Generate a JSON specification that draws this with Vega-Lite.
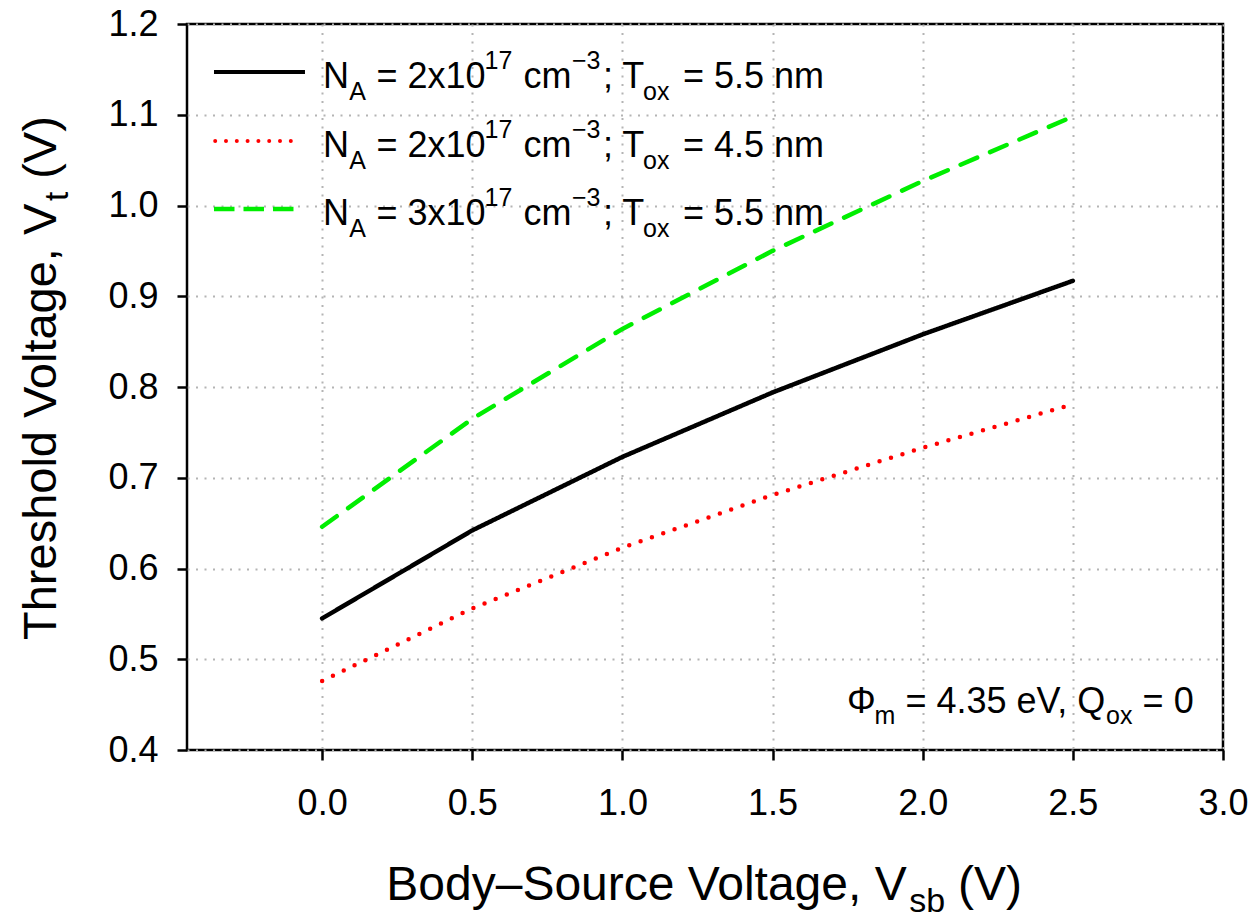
{
"$schema":"https://vega.github.io/schema/vega-lite/v6.json",
"autosize":"none",
"width":1036,"height":726,
"padding":{"left":187,"top":24,"right":33,"bottom":168},
"background":"white",
"datasets":{
"curves":[
{"vsb":0,"vt":0.545,"series":"NA=2e17, Tox=5.5nm"},
{"vsb":0.5,"vt":0.642,"series":"NA=2e17, Tox=5.5nm"},
{"vsb":1,"vt":0.723,"series":"NA=2e17, Tox=5.5nm"},
{"vsb":1.5,"vt":0.794,"series":"NA=2e17, Tox=5.5nm"},
{"vsb":2,"vt":0.858,"series":"NA=2e17, Tox=5.5nm"},
{"vsb":2.5,"vt":0.917,"series":"NA=2e17, Tox=5.5nm"},
{"vsb":0,"vt":0.476,"series":"NA=2e17, Tox=4.5nm"},
{"vsb":0.5,"vt":0.556,"series":"NA=2e17, Tox=4.5nm"},
{"vsb":1,"vt":0.623,"series":"NA=2e17, Tox=4.5nm"},
{"vsb":1.5,"vt":0.681,"series":"NA=2e17, Tox=4.5nm"},
{"vsb":2,"vt":0.733,"series":"NA=2e17, Tox=4.5nm"},
{"vsb":2.5,"vt":0.781,"series":"NA=2e17, Tox=4.5nm"},
{"vsb":0,"vt":0.646,"series":"NA=3e17, Tox=5.5nm"},
{"vsb":0.5,"vt":0.765,"series":"NA=3e17, Tox=5.5nm"},
{"vsb":1,"vt":0.864,"series":"NA=3e17, Tox=5.5nm"},
{"vsb":1.5,"vt":0.950,"series":"NA=3e17, Tox=5.5nm"},
{"vsb":2,"vt":1.027,"series":"NA=3e17, Tox=5.5nm"},
{"vsb":2.5,"vt":1.098,"series":"NA=3e17, Tox=5.5nm"}
],
"one":[{}]
},
"config":{
"view":{"stroke":"black","strokeWidth":2.5},
"axis":{"labelFont":"Liberation Sans","labelFontSize":36,"labelColor":"black","tickColor":"black","tickWidth":2.5,"tickSize":10,"domain":false,"grid":true,"gridColor":"#b4b4b4","gridDash":[2,6.5],"gridWidth":2,"labelFlush":false,"title":null},
"text":{"font":"Liberation Sans","align":"left","baseline":"alphabetic","fontSize":36,"color":"black"}
},
"layer":[
{"data":{"name":"curves"},
"mark":{"type":"line","strokeWidth":4.5,"strokeCap":"round"},
"encoding":{
"x":{"field":"vsb","type":"quantitative","scale":{"domain":[-0.45,3.0],"nice":false,"zero":false},"axis":{"title":null,"values":[0,0.5,1,1.5,2,2.5,3],"format":".1f","labelPadding":26}},
"y":{"field":"vt","type":"quantitative","scale":{"domain":[0.4,1.2],"nice":false,"zero":false},"axis":{"title":null,"values":[0.4,0.5,0.6,0.7,0.8,0.9,1.0,1.1,1.2],"format":".1f","labelPadding":19}},
"color":{"field":"series","type":"nominal","scale":{"domain":["NA=2e17, Tox=5.5nm","NA=2e17, Tox=4.5nm","NA=3e17, Tox=5.5nm"],"range":["#000000","#ff0000","#00ee00"]},"legend":null},
"strokeDash":{"field":"series","type":"nominal","scale":{"domain":["NA=2e17, Tox=5.5nm","NA=2e17, Tox=4.5nm","NA=3e17, Tox=5.5nm"],"range":[[1,0],[0,12],[18,14]]},"legend":null}
}},
{"data":{"name":"one"},"mark":{"type":"rule","color":"#000000","strokeWidth":4},"encoding":{"x":{"datum":-0.3601},"x2":{"datum":-0.0571},"y":{"datum":1.14711}}},
{"data":{"name":"one"},"mark":{"type":"rule","color":"#ff0000","strokeWidth":4,"strokeCap":"round","strokeDash":[0,10.8]},"encoding":{"x":{"datum":-0.3561},"x2":{"datum":-0.069},"y":{"datum":1.07107}}},
{"data":{"name":"one"},"mark":{"type":"rule","color":"#00ee00","strokeWidth":4.5,"strokeDash":[20.5,9]},"encoding":{"x":{"datum":-0.3601},"x2":{"datum":-0.0953},"y":{"datum":0.99614}}},

{"data":{"name":"one"},"mark":{"type":"text","text":"N"},"encoding":{"x":{"datum":0.0029},"y":{"datum":1.12992}}},
{"data":{"name":"one"},"mark":{"type":"text","text":"A","fontSize":25},"encoding":{"x":{"datum":0.0905},"y":{"datum":1.11636}}},
{"data":{"name":"one"},"mark":{"type":"text","text":"= 2x10"},"encoding":{"x":{"datum":0.1811},"y":{"datum":1.12992}}},
{"data":{"name":"one"},"mark":{"type":"text","text":"17","fontSize":25},"encoding":{"x":{"datum":0.5407},"y":{"datum":1.15085}}},
{"data":{"name":"one"},"mark":{"type":"text","text":"cm"},"encoding":{"x":{"datum":0.6706},"y":{"datum":1.12992}}},
{"data":{"name":"one"},"mark":{"type":"text","text":"−3","fontSize":25},"encoding":{"x":{"datum":0.8321},"y":{"datum":1.15085}}},
{"data":{"name":"one"},"mark":{"type":"text","text":"; T"},"encoding":{"x":{"datum":0.9353},"y":{"datum":1.12992}}},
{"data":{"name":"one"},"mark":{"type":"text","text":"ox","fontSize":25},"encoding":{"x":{"datum":1.0685},"y":{"datum":1.11636}}},
{"data":{"name":"one"},"mark":{"type":"text","text":"= 5.5 nm"},"encoding":{"x":{"datum":1.2017},"y":{"datum":1.12992}}},

{"data":{"name":"one"},"mark":{"type":"text","text":"N"},"encoding":{"x":{"datum":0.0029},"y":{"datum":1.05388}}},
{"data":{"name":"one"},"mark":{"type":"text","text":"A","fontSize":25},"encoding":{"x":{"datum":0.0905},"y":{"datum":1.04033}}},
{"data":{"name":"one"},"mark":{"type":"text","text":"= 2x10"},"encoding":{"x":{"datum":0.1811},"y":{"datum":1.05388}}},
{"data":{"name":"one"},"mark":{"type":"text","text":"17","fontSize":25},"encoding":{"x":{"datum":0.5407},"y":{"datum":1.07482}}},
{"data":{"name":"one"},"mark":{"type":"text","text":"cm"},"encoding":{"x":{"datum":0.6706},"y":{"datum":1.05388}}},
{"data":{"name":"one"},"mark":{"type":"text","text":"−3","fontSize":25},"encoding":{"x":{"datum":0.8321},"y":{"datum":1.07482}}},
{"data":{"name":"one"},"mark":{"type":"text","text":"; T"},"encoding":{"x":{"datum":0.9353},"y":{"datum":1.05388}}},
{"data":{"name":"one"},"mark":{"type":"text","text":"ox","fontSize":25},"encoding":{"x":{"datum":1.0685},"y":{"datum":1.04033}}},
{"data":{"name":"one"},"mark":{"type":"text","text":"= 4.5 nm"},"encoding":{"x":{"datum":1.2017},"y":{"datum":1.05388}}},

{"data":{"name":"one"},"mark":{"type":"text","text":"N"},"encoding":{"x":{"datum":0.0029},"y":{"datum":0.97895}}},
{"data":{"name":"one"},"mark":{"type":"text","text":"A","fontSize":25},"encoding":{"x":{"datum":0.0905},"y":{"datum":0.9654}}},
{"data":{"name":"one"},"mark":{"type":"text","text":"= 3x10"},"encoding":{"x":{"datum":0.1811},"y":{"datum":0.97895}}},
{"data":{"name":"one"},"mark":{"type":"text","text":"17","fontSize":25},"encoding":{"x":{"datum":0.5407},"y":{"datum":0.99989}}},
{"data":{"name":"one"},"mark":{"type":"text","text":"cm"},"encoding":{"x":{"datum":0.6706},"y":{"datum":0.97895}}},
{"data":{"name":"one"},"mark":{"type":"text","text":"−3","fontSize":25},"encoding":{"x":{"datum":0.8321},"y":{"datum":0.99989}}},
{"data":{"name":"one"},"mark":{"type":"text","text":"; T"},"encoding":{"x":{"datum":0.9353},"y":{"datum":0.97895}}},
{"data":{"name":"one"},"mark":{"type":"text","text":"ox","fontSize":25},"encoding":{"x":{"datum":1.0685},"y":{"datum":0.9654}}},
{"data":{"name":"one"},"mark":{"type":"text","text":"= 5.5 nm"},"encoding":{"x":{"datum":1.2017},"y":{"datum":0.97895}}},

{"data":{"name":"one"},"mark":{"type":"text","text":"Φ"},"encoding":{"x":{"datum":1.7479},"y":{"datum":0.44077}}},
{"data":{"name":"one"},"mark":{"type":"text","text":"m","fontSize":25},"encoding":{"x":{"datum":1.8395},"y":{"datum":0.42865}}},
{"data":{"name":"one"},"mark":{"type":"text","text":"= 4.35 eV, Q"},"encoding":{"x":{"datum":1.9427},"y":{"datum":0.44077}}},
{"data":{"name":"one"},"mark":{"type":"text","text":"ox","fontSize":25},"encoding":{"x":{"datum":2.6104},"y":{"datum":0.42865}}},
{"data":{"name":"one"},"mark":{"type":"text","text":"= 0"},"encoding":{"x":{"datum":2.7323},"y":{"datum":0.44077}}},

{"data":{"name":"one"},"mark":{"type":"text","text":"Body–Source Voltage, V","fontSize":48},"encoding":{"x":{"datum":0.2137},"y":{"datum":0.23471}}},
{"data":{"name":"one"},"mark":{"type":"text","text":"sb","fontSize":34},"encoding":{"x":{"datum":1.9553},"y":{"datum":0.22149}}},
{"data":{"name":"one"},"mark":{"type":"text","text":"(V)","fontSize":48},"encoding":{"x":{"datum":2.1179},"y":{"datum":0.23471}}},

{"data":{"name":"one"},"mark":{"type":"text","text":"Threshold Voltage, V","fontSize":47,"angle":270},"encoding":{"x":{"datum":-0.8862},"y":{"datum":0.52121}}},
{"data":{"name":"one"},"mark":{"type":"text","text":"t","fontSize":33,"angle":270},"encoding":{"x":{"datum":-0.8463},"y":{"datum":1.00485}}},
{"data":{"name":"one"},"mark":{"type":"text","text":"(V)","fontSize":47,"angle":270},"encoding":{"x":{"datum":-0.8862},"y":{"datum":1.02942}}}
]
}
